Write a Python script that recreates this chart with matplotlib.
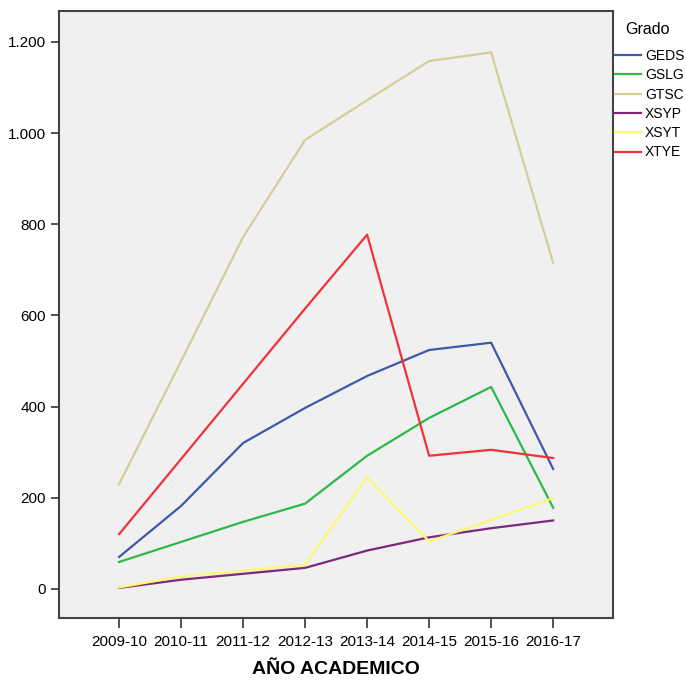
import matplotlib.pyplot as plt
from matplotlib.ticker import FuncFormatter

# datos
years = ['2009-10', '2010-11', '2011-12', '2012-13', '2013-14', '2014-15', '2015-16', '2016-17']
geds = [70, 182, 320, 397, 467, 524, 540, 263]
gslg = [59, 103, 147, 187, 292, 375, 443, 178]
gtsc = [230, 500, 772, 985, 1072, 1158, 1177, 715]
xsyp = [2, 20, 33, 46, 84, 113, 133, 150]
xsyt = [3, 27, 40, 53, 245, 104, 151, 199]
xtye = [120, 285, 450, 615, 777, 292, 305, 287]

series = ['GEDS', 'GSLG', 'GTSC', 'XSYP', 'XSYT', 'XTYE']
values = [geds, gslg, gtsc, xsyp, xsyt, xtye]
colors = ['#3E58AC', '#2EB848', '#D3CE97', '#7C287D', '#FBF873', '#EF3338']

plt.rcParams['font.family'] = ['Liberation Sans', 'DejaVu Sans']

fig = plt.figure(figsize=(6.86, 6.81), dpi=100)
ax = fig.add_axes([0.086, 0.0925, 0.808, 0.8915])
ax.set_facecolor('#F0F0F0')

x = list(range(len(years)))
for name, vals, c in zip(series, values, colors):
    ax.plot(x, vals, color=c, linewidth=1.6, label=name)

ax.set_xlim(-0.97, 7.97)
ax.set_ylim(-64, 1268)
ax.set_xticks(x)
ax.set_xticklabels(years, fontsize=11)
ax.set_yticks([0, 200, 400, 600, 800, 1000, 1200])
ax.yaxis.set_major_formatter(FuncFormatter(lambda v, p: f'{int(v):,}'.replace(',', '.')))
ax.tick_params(axis='y', labelsize=11, length=6, width=1.2, color='#333333')
ax.tick_params(axis='x', length=7, width=1.2, color='#333333', pad=5)
for s in ax.spines.values():
    s.set_color('#444444')
    s.set_linewidth(1.5)

ax.set_xlabel('AÑO ACADEMICO', fontsize=14, fontweight='bold', labelpad=9)

# leyenda con titulo aparte
fig.text(647 / 686, 1 - 30 / 681, 'Grado', fontsize=11.5, ha='center', va='center')
fig.legend(loc='upper left', bbox_to_anchor=(615 / 686, 1 - 49 / 681), frameon=False,
           fontsize=10, borderpad=0, borderaxespad=0,
           handlelength=1.9, handletextpad=0.25, labelspacing=0.38)

fig.savefig('out.png', dpi=100)
